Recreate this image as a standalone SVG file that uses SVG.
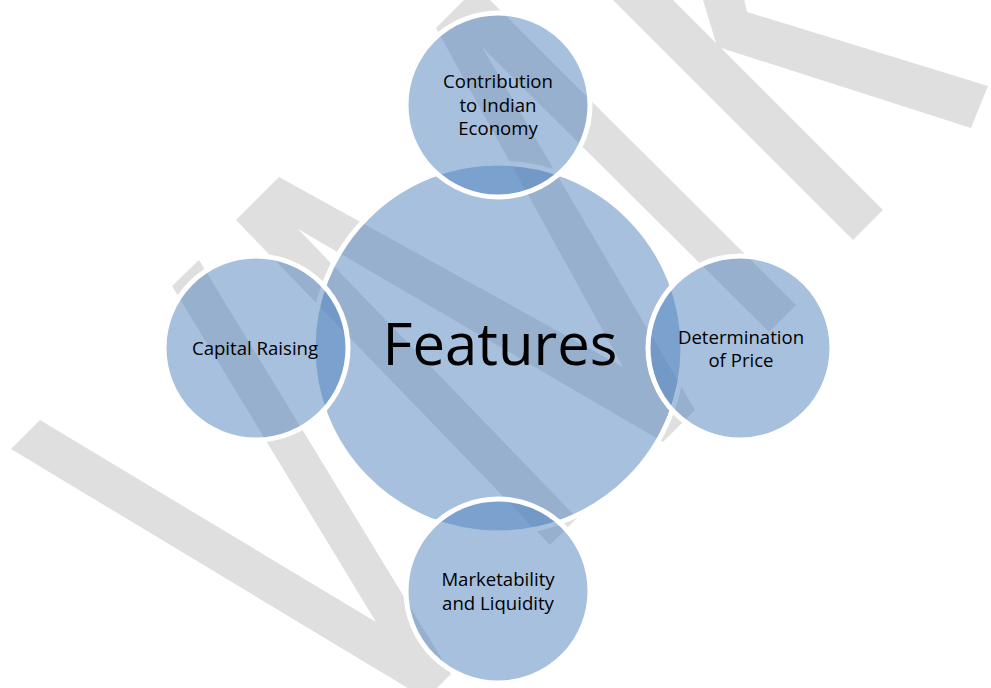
<svg xmlns="http://www.w3.org/2000/svg" width="991" height="688" viewBox="0 0 991 688">
  <style>
    .wm { fill: #dfdfdf; }
    .node circle { fill: #4F81BD; fill-opacity: 0.5; stroke: #ffffff; stroke-width: 5; }
    .lbl { font-family: "Open Sans", "Liberation Sans", sans-serif; font-size: 18.6px; text-anchor: middle; fill: #000000; }
    .big { font-family: "Open Sans", "Liberation Sans", sans-serif; font-size: 58px; text-anchor: middle; fill: #000000; }
  </style>
  <rect x="0" y="0" width="991" height="688" fill="#ffffff"/>
  <g id="watermark">
    <polygon class="wm" points="11,449 40,420 376,622 172,286 199,260 451,674 426,699"/>
    <polygon class="wm" points="236,220 279,177 623,367 436,28 477,-13 796,305 769,332 482,47 695,410 663,442 298,229 577,518 550,545"/>
    <polygon class="wm" points="603,-10 663,-10 716,43 700,-10 742,-10 747,12 988,86 971,128 721,48 883,210 853,240"/>
  </g>
  <g id="connectors"></g>
  <g id="node-features" class="node">
    <circle cx="498" cy="348" r="185"/>
    <text class="big" x="500" y="365">Features</text>
  </g>
  <g id="node-contribution" class="node">
    <circle cx="498" cy="105" r="92"/>
    <text class="lbl" x="498" y="88">Contribution</text>
    <text class="lbl" x="498" y="111.5">to Indian</text>
    <text class="lbl" x="498" y="135">Economy</text>
  </g>
  <g id="node-capital" class="node">
    <circle cx="256" cy="348" r="92"/>
    <text class="lbl" x="255" y="355">Capital Raising</text>
  </g>
  <g id="node-price" class="node">
    <circle cx="740" cy="348" r="92"/>
    <text class="lbl" x="741" y="343.5">Determination</text>
    <text class="lbl" x="741" y="367">of Price</text>
  </g>
  <g id="node-marketability" class="node">
    <circle cx="498" cy="591" r="92"/>
    <text class="lbl" x="498" y="586">Marketability</text>
    <text class="lbl" x="498" y="609.5">and Liquidity</text>
  </g>
</svg>
